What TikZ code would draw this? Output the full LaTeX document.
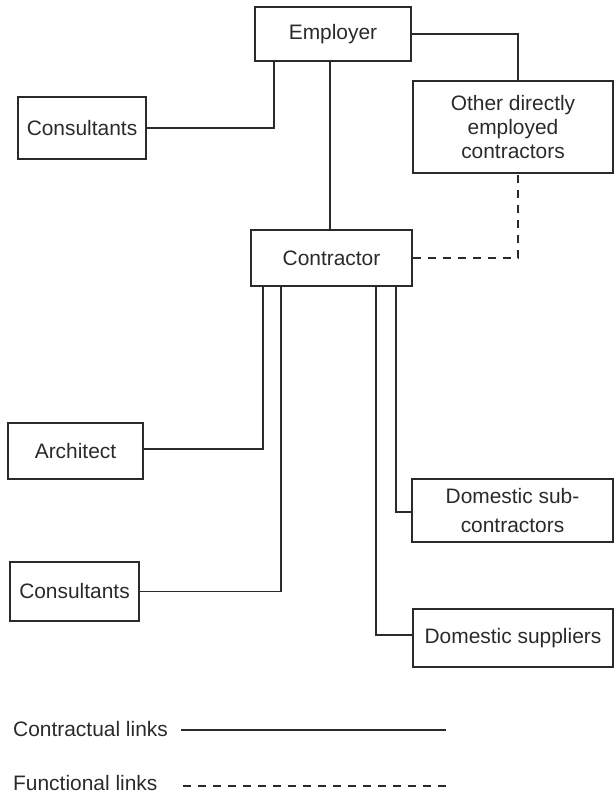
\documentclass[tikz,border=0pt]{standalone}
\usepackage{fontspec}
\setmainfont{Liberation Sans}
\definecolor{ink}{HTML}{2A2A2A}
\begin{document}
\begin{tikzpicture}[x=1bp,y=-1bp,
  party/.style={draw=ink, line width=1.2bp, rectangle, inner sep=0pt,
    align=center, text=ink, font=\fontsize{21}{24}\selectfont},
  link/.style={draw=ink, line width=1.2bp},
  funclink/.style={link, dash pattern=on 8bp off 7bp},
  legtext/.style={anchor=west, inner sep=0pt, text=ink, font=\fontsize{21}{24}\selectfont}]
\useasboundingbox (0,0) rectangle (615,795);

% parties
\node[party, minimum width=156bp, minimum height=54bp] (emp)   at (333,34)    {Employer};
\node[party, minimum width=128bp, minimum height=62bp] (consA) at (82,128)    {Consultants};
\node[party, minimum width=200bp, minimum height=92bp] (other) at (513,127)   {Other directly\\employed\\contractors};
\node[party, minimum width=161bp, minimum height=56bp] (contr) at (331.5,258) {Contractor};
\node[party, minimum width=135bp, minimum height=56bp] (arch)  at (75.5,451)  {Architect};
\node[party, minimum width=129bp, minimum height=59bp] (consB) at (74.5,591.5){Consultants};
\node[party, minimum width=201bp, minimum height=63bp,
      font=\fontsize{21}{30}\selectfont] (dsub) at (512.5,510.5){Domestic sub-\\contractors};
\node[party, minimum width=200bp, minimum height=58bp] (dsup)  at (513,638)   {Domestic suppliers};

% contractual links
\draw[link] (emp.east) -| ([xshift=5bp]other.north);
\draw[link] (consA.east) -| ([xshift=-59bp]emp.south);
\draw[link] ([xshift=-3bp]emp.south) -- ([xshift=-3bp]emp.south |- contr.north);
\draw[link] ([xshift=-68.5bp]contr.south) |- ([yshift=2bp]arch.east);
\draw[link] ([xshift=-50.5bp]contr.south) |- (consB.east);
\draw[link] ([xshift=64.5bp]contr.south) |- ([yshift=-1.5bp]dsub.west);
\draw[link] ([xshift=44.5bp]contr.south) |- ([yshift=3bp]dsup.west);

% functional link
\draw[funclink] (contr.east) -| ([xshift=5bp]other.south);

% legend
\node[legtext] (legA) at (13,729) {Contractual links};
\node[legtext] (legB) at (13,783) {Functional links};
\coordinate (legAend) at (446,730);
\coordinate (legBstart) at (183,786);
\coordinate (legBend) at (446,786);
\draw[link] (legA.east |- legAend) ++(13,0) -- (legAend);
\draw[funclink] (legBstart) -- (legBend);
\end{tikzpicture}
\end{document}
